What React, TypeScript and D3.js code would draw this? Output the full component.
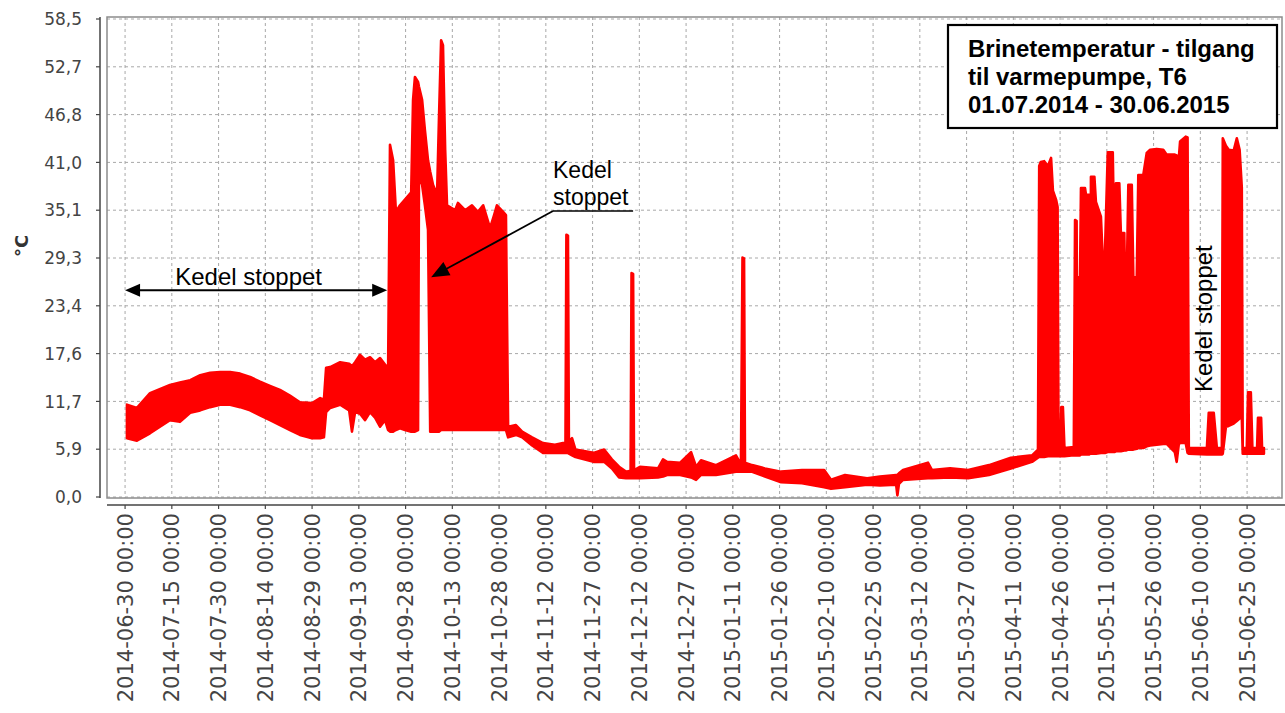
import React from "react";
import * as d3 from "d3";

// ---- data ----
// series starts 2014-06-30 00:00; dayOffset = days after that instant
const seriesStart = "2014-06-30 00:00";

const dayOffset = [
  0.6, 3.8, 8.0, 14.4, 17.6, 20.9, 24.1, 27.3, 30.5, 33.7, 36.9, 40.1, 43.3, 46.5, 49.7, 52.9, 56.1, 60.0, 62.6, 63.8,
  64.5, 65.8, 69.0, 71.9, 72.8, 73.8, 75.4, 77.0, 78.6, 80.2, 81.8, 83.4, 84.4,
  85.0, 86.0, 86.9, 88.2, 89.8, 91.8, 92.4, 93.0, 94.0, 94.3, 95.3, 96.2, 97.2, 97.9, 98.8, 100.1, 100.7, 101.4, 102.0,
  102.7, 103.3, 105.9, 106.8, 109.1, 111.3, 113.2, 114.9, 117.1, 118.4, 119.3, 121.3, 122.2,
  122.9, 125.4, 127.4, 130.6, 134.1, 137.9, 140.5, 141.3, 141.6, 142.1, 142.4, 143.4, 144.5, 150.3, 153.7, 156.2,
  158.5, 160.7, 162.2, 162.5, 163.0, 163.3, 165.2, 171.0, 172.6, 173.9, 178.1, 181.6, 183.2, 184.8, 189.6, 196.0,
  197.6, 198.1, 198.6, 198.9, 201.2, 205.3, 210.5, 217.2, 224.3, 226.5, 231.0, 238.1, 242.2, 247.4, 247.8, 248.3,
  249.6, 257.6, 258.9, 264.7, 270.5, 277.2, 284.2, 291.0, 292.9,
  293.3, 293.8, 294.9, 296.1, 297.1, 297.7, 298.7, 299.2, 299.5, 300.1, 300.4, 300.9, 301.4, 304.4, 304.8, 305.3,
  305.6, 305.9, 306.4, 306.7, 308.0, 308.3, 309.3, 309.6, 309.9, 311.0, 311.5, 313.1, 313.7, 314.4, 315.3, 316.9,
  317.4, 317.9, 319.0, 319.5, 320.6, 321.1, 321.9, 323.0, 323.5, 324.6, 325.1, 326.7, 327.8, 328.9, 331.0, 333.1,
  334.2, 336.8, 337.4, 338.1, 338.5, 340.3, 340.9, 341.3, 347.1, 347.7, 349.3, 350.3, 351.9, 352.2, 353.2, 354.1,
  355.7, 356.7, 357.6, 358.3, 358.6, 359.9, 360.3, 361.2, 361.7, 363.2, 363.5, 364.5, 364.8, 365.4,
];

const tempLow = [
  7.2, 6.9, 7.8, 9.4, 9.2, 10.3, 10.6, 11.0, 11.3, 11.3, 11.0, 10.6, 10.0, 9.4, 8.8, 8.2, 7.6, 7.2, 7.2, 7.3,
  10.4, 10.9, 11.3, 10.6, 8.0, 10.4, 10.2, 9.4, 10.4, 9.7, 8.6, 9.4, 8.2,
  8.0, 8.0, 8.2, 8.4, 8.2, 8.0, 8.0, 8.0, 8.2, 39.4, 38.2, 35.7, 32.7, 8.0, 8.0, 8.0, 8.0, 8.2, 8.2,
  8.2, 8.2, 8.2, 8.2, 8.2, 8.2, 8.2, 8.2, 8.2, 8.2, 8.2, 8.2, 8.2,
  7.3, 7.6, 7.3, 6.3, 5.4, 5.4, 5.4, 5.4, 5.4, 5.4, 5.3, 5.1, 4.9, 4.3, 4.3, 3.5,
  2.4, 2.3, 2.3, 2.3, 2.3, 2.3, 2.3, 2.4, 2.5, 2.7, 2.7, 2.4, 2.1, 2.7, 2.7, 3.1,
  3.1, 3.1, 3.1, 3.1, 3.1, 2.5, 1.8, 1.7, 1.2, 1.0, 1.2, 1.5, 1.4, 1.5, 0.2, 1.6,
  2.1, 2.3, 2.3, 2.4, 2.3, 2.7, 3.5, 4.3, 4.8,
  4.9, 4.9, 4.9, 5.0, 5.0, 5.0, 5.0, 5.0, 5.0, 5.0, 5.0, 5.0, 5.0, 5.1, 5.1, 5.1,
  5.1, 5.1, 5.1, 5.2, 5.2, 5.2, 5.2, 5.3, 5.3, 5.3, 5.3, 5.4, 5.4, 5.4, 5.5, 5.5,
  5.5, 5.6, 5.6, 5.6, 5.7, 5.7, 5.8, 5.8, 5.8, 5.9, 6.0, 6.0, 6.2, 6.3, 6.4, 6.5,
  6.5, 5.5, 4.3, 6.5, 6.6, 6.6, 5.4, 5.3, 5.2, 5.2, 5.2, 5.2, 5.2, 5.3, 8.6, 8.7,
  9.0, 9.3, 9.6, 9.8, 5.3, 5.3, 5.3, 5.3, 5.3, 5.3, 5.3, 5.3, 5.3, 5.3,
];

const tempHigh = [
  11.3, 10.9, 12.7, 13.7, 14.0, 14.3, 14.9, 15.2, 15.3, 15.3, 15.1, 14.7, 14.1, 13.6, 13.1, 12.4, 11.6, 11.5, 12.1, 11.9,
  15.8, 15.9, 16.5, 16.3, 16.0, 16.5, 17.4, 16.8, 17.1, 16.5, 17.0, 16.2, 15.8,
  43.1, 41.2, 34.9, 35.7, 36.4, 37.3, 48.6, 51.4, 50.8, 50.2, 48.6, 44.9, 41.2, 39.8, 38.2, 37.0, 46.1, 55.9, 55.3,
  42.5, 35.7, 35.1, 36.0, 35.1, 35.7, 34.9, 35.7, 32.9, 34.5, 35.7, 34.9, 34.5,
  8.6, 8.8, 8.0, 7.3, 6.6, 6.4, 6.6, 6.6, 32.1, 32.0, 6.8, 7.2, 5.8, 5.4, 5.8, 4.6,
  3.7, 3.1, 3.2, 27.4, 27.3, 3.3, 3.7, 3.5, 4.6, 4.3, 4.2, 5.5, 3.7, 4.5, 3.9, 5.1,
  4.0, 29.3, 29.2, 4.2, 3.9, 3.5, 3.1, 3.3, 3.3, 2.1, 2.7, 2.3, 2.5, 2.7, 2.7, 2.9,
  3.3, 4.2, 3.3, 3.5, 3.3, 3.9, 4.8, 5.1, 5.8,
  40.5, 41.0, 41.1, 40.5, 41.5, 37.5, 36.4, 35.5, 6.0, 6.0, 11.0, 11.0, 6.0, 6.1, 33.9, 33.8,
  6.2, 26.9, 26.9, 37.8, 37.8, 37.0, 37.0, 6.5, 39.2, 39.2, 36.1, 34.3, 29.0, 30.0, 42.2, 42.2,
  30.0, 38.4, 38.4, 32.3, 32.3, 20.0, 38.2, 38.2, 26.9, 26.9, 39.4, 39.4, 42.1, 42.5, 42.6, 42.5,
  41.9, 41.9, 41.8, 41.5, 43.5, 44.1, 44.0, 6.0, 6.0, 10.3, 10.3, 6.0, 6.0, 43.9, 43.0, 42.5,
  42.4, 43.9, 42.5, 37.9, 6.0, 6.0, 12.8, 12.8, 6.0, 6.0, 9.7, 9.7, 6.0, 6.0,
];

const yTickValues = [0, 5.85, 11.7, 17.55, 23.4, 29.25, 35.1, 40.95, 46.8, 52.65, 58.5];
const yTickLabels = ["0,0", "5,9", "11,7", "17,6", "23,4", "29,3", "35,1", "41,0", "46,8", "52,7", "58,5"];

const xTickLabels = [
  "2014-06-30 00:00", "2014-07-15 00:00", "2014-07-30 00:00", "2014-08-14 00:00", "2014-08-29 00:00",
  "2014-09-13 00:00", "2014-09-28 00:00", "2014-10-13 00:00", "2014-10-28 00:00", "2014-11-12 00:00",
  "2014-11-27 00:00", "2014-12-12 00:00", "2014-12-27 00:00", "2015-01-11 00:00", "2015-01-26 00:00",
  "2015-02-10 00:00", "2015-02-25 00:00", "2015-03-12 00:00", "2015-03-27 00:00", "2015-04-11 00:00",
  "2015-04-26 00:00", "2015-05-11 00:00", "2015-05-26 00:00", "2015-06-10 00:00", "2015-06-25 00:00",
];

const yAxisTitle = "°C";
const titleLines = ["Brinetemperatur - tilgang", "til varmepumpe, T6", "01.07.2014 - 30.06.2015"];
const noteText = "Kedel stoppet";

// annotation anchors in data units: [dayOffset, value]
const noteSpan = { from: [0, 25.3], to: [84.1, 25.3], label: [16.1, 25.95] };
const noteLeader = { from: [137.3, 35.0], to: [98.2, 26.9], underlineEnd: 163.0, line1: [137.3, 39.0], line2: [137.3, 35.7] };
const noteVertical = [348.7, 12.85];

// ---- layout ----
const W = 1285;
const H = 713;
const plotLeft = 107;
const plotRight = 1282;
const plotTop = 17;
const plotBottom = 498;
const yAxisX = 100;
const xAxisY = 505;

const parse = d3.timeParse("%Y-%m-%d %H:%M");
const t0 = parse(seriesStart) as Date;
const dayToDate = (d: number) => new Date(t0.getTime() + d * 864e5);

const x = d3.scaleTime().domain([dayToDate(-5.8), dayToDate(371.2)]).range([plotLeft, plotRight]);
const y = d3.scaleLinear().domain([0, 58.5]).range([497, 19]);

const RED = "#ff0000";

function arrowHead(tipX: number, tipY: number, fromX: number, fromY: number, len: number, half: number) {
  const ang = Math.atan2(tipY - fromY, tipX - fromX);
  const bx = tipX - len * Math.cos(ang);
  const by = tipY - len * Math.sin(ang);
  const px = -Math.sin(ang) * half;
  const py = Math.cos(ang) * half;
  return `M${tipX},${tipY}L${bx + px},${by + py}L${bx - px},${by - py}Z`;
}

export default function App() {
  const rows = dayOffset.map((d, i) => ({ t: dayToDate(d), lo: tempLow[i], hi: tempHigh[i] }));
  const area = d3
    .area<{ t: Date; lo: number; hi: number }>()
    .x((r) => x(r.t))
    .y0((r) => y(r.lo))
    .y1((r) => y(r.hi));
  const areaPath = area(rows) || "";

  const xTicks = xTickLabels.map((s) => ({ s, t: parse(s) as Date }));

  // annotation pixel positions via scales
  const sx0 = x(dayToDate(noteSpan.from[0]));
  const sx1 = x(dayToDate(noteSpan.to[0]));
  const sy = y(noteSpan.from[1]);
  const lfx = x(dayToDate(noteLeader.from[0]));
  const lfy = y(noteLeader.from[1]);
  const ltx = x(dayToDate(noteLeader.to[0]));
  const lty = y(noteLeader.to[1]);
  const lux = x(dayToDate(noteLeader.underlineEnd));
  const vx = x(dayToDate(noteVertical[0]));
  const vy = y(noteVertical[1]);

  const tickFont = "'DejaVu Sans', sans-serif";
  const noteFont = "'Liberation Sans', Arial, sans-serif";

  return (
    <svg width={W} height={H} style={{ position: "absolute", left: 0, top: 0, background: "#fff" }}>
      <rect x={0} y={0} width={W} height={H} fill="#fff" />
      {/* grid */}
      <g stroke="#a8a8a8" strokeWidth={1} strokeDasharray="3,3">
        {xTicks.map((d) => (
          <line key={d.s} x1={x(d.t)} x2={x(d.t)} y1={plotTop} y2={plotBottom} />
        ))}
        {yTickValues.map((v) => (
          <line key={v} x1={plotLeft} x2={plotRight} y1={y(v)} y2={y(v)} />
        ))}
      </g>
      {/* data */}
      <path d={areaPath} fill={RED} stroke={RED} strokeWidth={2.6} strokeLinejoin="round" />
      {/* frame */}
      <rect x={plotLeft} y={plotTop} width={plotRight - plotLeft} height={plotBottom - plotTop} fill="none" stroke="#8c8c8c" strokeWidth={1.5} />
      {/* y axis */}
      <line x1={yAxisX} x2={yAxisX} y1={plotTop} y2={plotBottom} stroke="#444" strokeWidth={1.5} />
      {yTickValues.map((v, i) => (
        <g key={v}>
          <line x1={yAxisX - 4} x2={yAxisX} y1={y(v)} y2={y(v)} stroke="#444" strokeWidth={1.2} />
          <text x={yAxisX - 18} y={y(v)} dy="0.36em" textAnchor="end" fontFamily={tickFont} fontSize={17} fill="#444">
            {yTickLabels[i]}
          </text>
        </g>
      ))}
      <text
        transform={`translate(28,246) rotate(-90)`}
        textAnchor="middle"
        fontFamily={tickFont}
        fontWeight="bold"
        fontSize={18}
        fill="#333"
      >
        {yAxisTitle}
      </text>
      {/* x axis */}
      <line x1={plotLeft} x2={W} y1={xAxisY} y2={xAxisY} stroke="#444" strokeWidth={1.5} />
      {xTicks.map((d) => (
        <g key={d.s}>
          <line x1={x(d.t)} x2={x(d.t)} y1={xAxisY} y2={xAxisY + 4} stroke="#444" strokeWidth={1.2} />
          <text
            transform={`translate(${x(d.t)},${xAxisY + 8}) rotate(-90)`}
            textAnchor="end"
            dy="0.36em"
            fontFamily={tickFont}
            fontSize={21}
            fill="#444"
          >
            {d.s}
          </text>
        </g>
      ))}
      {/* annotation: horizontal double arrow */}
      <line x1={sx0 + 10} x2={sx1 - 10} y1={sy} y2={sy} stroke="#000" strokeWidth={2} />
      <path d={arrowHead(sx0, sy, sx1, sy, 15, 6.5)} fill="#000" />
      <path d={arrowHead(sx1, sy, sx0, sy, 15, 6.5)} fill="#000" />
      <text x={x(dayToDate(noteSpan.label[0]))} y={y(noteSpan.label[1])} fontFamily={noteFont} fontSize={24} fill="#000">
        {noteText}
      </text>
      {/* annotation: leader */}
      <text x={x(dayToDate(noteLeader.line1[0]))} y={y(noteLeader.line1[1])} fontFamily={noteFont} fontSize={23} fill="#000">
        Kedel
      </text>
      <text x={x(dayToDate(noteLeader.line2[0]))} y={y(noteLeader.line2[1])} fontFamily={noteFont} fontSize={23} fill="#000">
        stoppet
      </text>
      <line x1={lfx} x2={lux} y1={lfy} y2={lfy} stroke="#000" strokeWidth={1.5} />
      <line x1={lfx} y1={lfy} x2={ltx + (lfx - ltx) * 0.1} y2={lty + (lfy - lty) * 0.1} stroke="#000" strokeWidth={1.8} />
      <path d={arrowHead(ltx, lty, lfx, lfy, 18, 7.5)} fill="#000" />
      {/* annotation: vertical */}
      <text transform={`translate(${vx},${vy}) rotate(-90)`} fontFamily={noteFont} fontSize={24} fill="#000">
        {noteText}
      </text>
      {/* title box */}
      <rect x={948} y={25} width={329} height={103} fill="#fff" stroke="#000" strokeWidth={2.2} />
      {titleLines.map((s, i) => (
        <text key={s} x={968} y={57 + i * 28} fontFamily={noteFont} fontWeight="bold" fontSize={24} fill="#000">
          {s}
        </text>
      ))}
    </svg>
  );
}
